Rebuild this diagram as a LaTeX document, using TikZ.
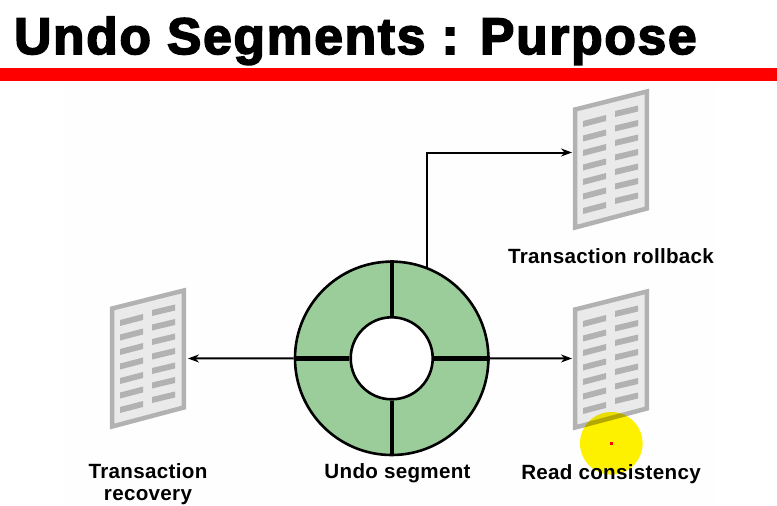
\documentclass[tikz,border=0pt]{standalone}
\usepackage{fontspec}
\setmainfont{Liberation Sans}
\newfontfamily\titlefont[FakeBold=3.2,LetterSpace=3.4]{Liberation Sans Bold}
\newfontfamily\labelfont[LetterSpace=1.5]{Liberation Sans Bold}
\usetikzlibrary{arrows.meta}
\definecolor{ringgreen}{HTML}{9BCD9B}
\definecolor{docedge}{HTML}{B2B2B2}
\definecolor{docfill}{HTML}{EAEAEA}
\definecolor{faintbg}{HTML}{FEFEFE}
\tikzset{
  x=1pt,y=-1pt,
  ringline/.style={draw=black,line width=2.6pt},
  divider/.style={draw=black,line width=4pt},
  connector/.style={draw=black,line width=2pt,-{Stealth[length=11pt,width=8pt]}},
  lbl/.style={font=\labelfont\fontsize{20.6}{22}\selectfont,align=center,text=black,inner sep=0pt},
  docbody/.style={draw=docedge,fill=docfill,line width=4.5pt,line join=miter},
  docbar/.style={fill=docedge,draw=none},
  pics/docicon/.style={code={
    \path[docbody] (2.2,20.5) -- (73.8,2.5) -- (73.8,119.5) -- (2.2,138.5) -- cycle;
    \foreach \i in {0,...,6}{
      \path[docbar] (10,{32+14.5*\i}) -- (33,{26+14.5*\i}) -- (33,{32+14.5*\i}) -- (10,{38+14.5*\i}) -- cycle;
      \path[docbar] (42,{22+14.5*\i}) -- (65,{16.5+14.5*\i}) -- (65,{22.5+14.5*\i}) -- (42,{28+14.5*\i}) -- cycle;
    }
  }}
}
\begin{document}
\begin{tikzpicture}
\useasboundingbox (0,0) rectangle (777,506);
\fill[white] (0,0) rectangle (777,506);
\fill[faintbg] (65,82) rectangle (716,506);
\node[font=\titlefont\fontsize{51.5}{56}\selectfont,anchor=base west,inner sep=0pt] (title) at (14,54) {Undo Segments : Purpose};
\fill[red] (0,68) rectangle (777,81);
% icons
\pic at (573,89) {docicon};
\pic at (573,289) {docicon};
\pic at (110,288) {docicon};
\coordinate (rollbackin) at (572,152.5);
\coordinate (readin) at (572,358.5);
\coordinate (recoveryin) at (188,358.5);
% ring
\node[circle,minimum size=193.4pt,inner sep=0pt,fill=ringgreen,ringline] (ring) at (391.7,358.3) {};
\node[circle,minimum size=82pt,inner sep=0pt,fill=white,ringline] (hole) at (391.7,358.3) {};
\draw[divider] (ring.north) -- (hole.north);
\draw[divider] (ring.south) -- (hole.south);
\draw[divider,line width=5pt] (ring.west) -- (hole.west);
\draw[divider,line width=5pt] (ring.east) -- (hole.east);
% connectors
\draw[connector] (ring.69.5) |- (rollbackin);
\draw[connector] (ring.east) -- (readin);
\draw[connector] (ring.west) -- (recoveryin);
% labels
\node[lbl] (l1) at (611,256) {Transaction rollback};
\node[lbl] (l2) at (611,474.3) {Read consistency};
\node[lbl] (l3) at (397.5,473.5) {Undo segment};
\node[lbl] (l4) at (148,484) {Transaction\\recovery};
% pointer
\begin{scope}[blend mode=multiply]
\fill[yellow] (611.3,443.3) circle (31.3);
\end{scope}
\fill[red] (610,442) rectangle (613,445);
\end{tikzpicture}
\end{document}
